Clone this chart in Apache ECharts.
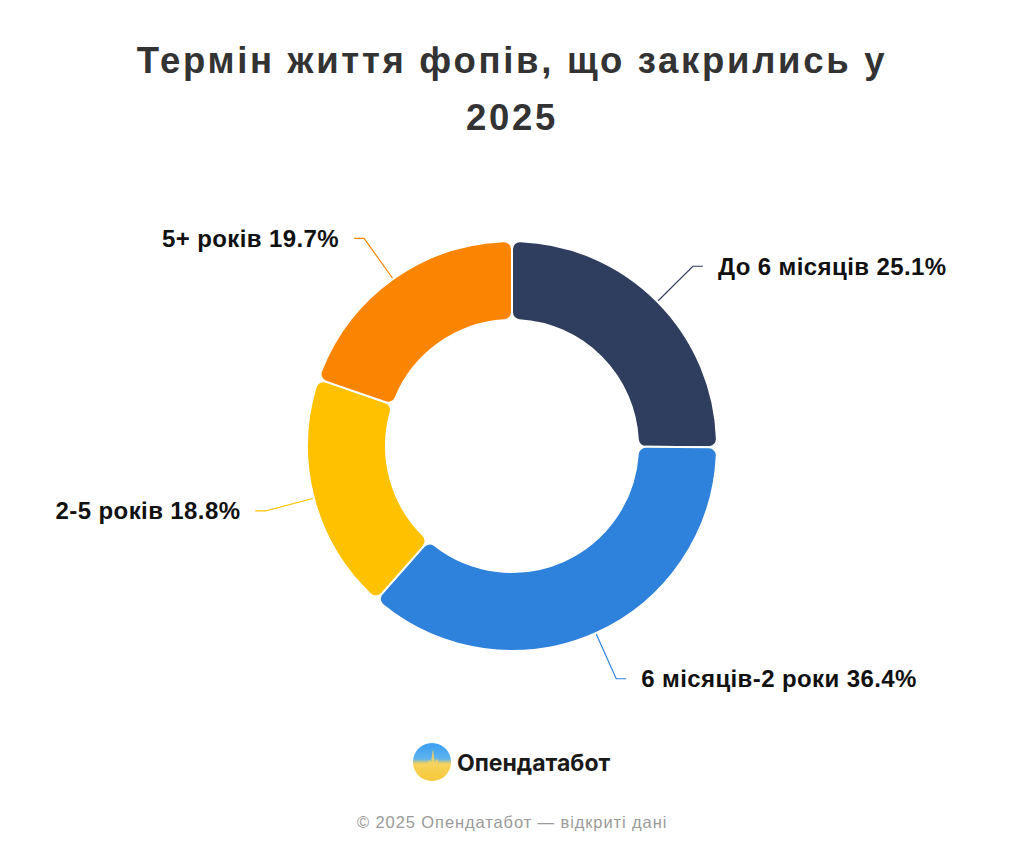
<!DOCTYPE html>
<html>
<head>
<meta charset="utf-8">
<script src="https://cdn.jsdelivr.net/npm/echarts@6/dist/echarts.min.js"></script>
<style>
html,body{margin:0;padding:0;background:#fff;}
#chart{width:1024px;height:853px;}
</style>
</head>
<body>
<div id="chart"></div>
<script>
const titleLines = ['Термін життя фопів, що закрились у', '2025'];
const categories = ['До 6 місяців', '6 місяців-2 роки', '2-5 років', '5+ років'];
const values = [25.1, 36.4, 18.8, 19.7];
const colors = ['#2f3e5e', '#2e82db', '#ffc100', '#fb8500'];
const brandText = 'Опендатабот';
const footerText = '© 2025 Опендатабот — відкриті дані';

const chart = echarts.init(document.getElementById('chart'), null, { renderer: 'svg' });
chart.setOption({
  backgroundColor: '#ffffff',
  animation: false,
  title: {
    text: titleLines.join('\n'),
    left: 'center',
    top: 27,
    textStyle: {
      fontFamily: 'Liberation Sans, Arial, sans-serif',
      fontSize: 36.5,
      fontWeight: 'bold',
      color: '#333333',
      lineHeight: 57
    }
  },
  series: [{
    type: 'pie',
    center: [512, 446],
    radius: [126, 205],
    startAngle: 90,
    clockwise: true,
    avoidLabelOverlap: false,
    itemStyle: {
      borderColor: '#ffffff',
      borderWidth: 2,
      borderRadius: 8
    },
    label: {
      show: true,
      formatter: p => p.name + ' ' + p.value.toFixed(1) + '%',
      fontFamily: 'Liberation Sans, Arial, sans-serif',
      fontSize: 24,
      fontWeight: 'bold',
      color: '#111111',
      distanceToLabelLine: 15
    },
    labelLine: {
      show: true,
      length: 50,
      length2: 10,
      smooth: false,
      lineStyle: { width: 1.2 }
    },
    data: categories.map((c, i) => ({
      name: c,
      value: values[i],
      itemStyle: { color: colors[i] }
    }))
  }],
  graphic: [
    {
      type: 'group',
      left: 413,
      top: 743,
      children: [
        {
          type: 'circle',
          shape: { cx: 19, cy: 19, r: 19 },
          style: {
            fill: new echarts.graphic.LinearGradient(0, 0, 0, 1, [
              { offset: 0, color: '#3a9ff2' },
              { offset: 0.42, color: '#5fb3ee' },
              { offset: 0.55, color: '#f4d257' },
              { offset: 1, color: '#f9c93a' }
            ])
          }
        },
        {
          type: 'polygon',
          shape: {
            points: [[2, 22], [14, 22], [16, 17], [18, 19], [20, 6], [22, 20], [24, 15], [26, 21], [36, 21], [36, 24], [2, 24]]
          },
          style: { fill: '#f4d35e', opacity: 0.85 }
        }
      ]
    },
    {
      type: 'text',
      left: 457,
      top: 751,
      style: {
        text: brandText,
        fontFamily: 'Inter, Roboto, sans-serif',
        fontSize: 23,
        fontWeight: 'bold',
        fill: '#1a1a1a'
      }
    },
    {
      type: 'text',
      left: 357,
      top: 813,
      style: {
        text: footerText,
        fontFamily: 'Liberation Sans, Arial, sans-serif',
        fontSize: 16.5,
        fill: '#9a9a9a'
      }
    }
  ]
});

function applySpacing() {
  const texts = document.querySelectorAll('#chart svg text');
  texts.forEach(t => {
    const s = t.textContent;
    if (titleLines.indexOf(s) >= 0) {
      t.style.letterSpacing = '2.7px';
    } else if (s === footerText) {
      t.style.letterSpacing = '0.9px';
    } else if (s.indexOf('%') >= 0) {
      t.style.letterSpacing = '0.4px';
    }
  });
}
applySpacing();
chart.on('finished', applySpacing);
</script>
</body>
</html>
